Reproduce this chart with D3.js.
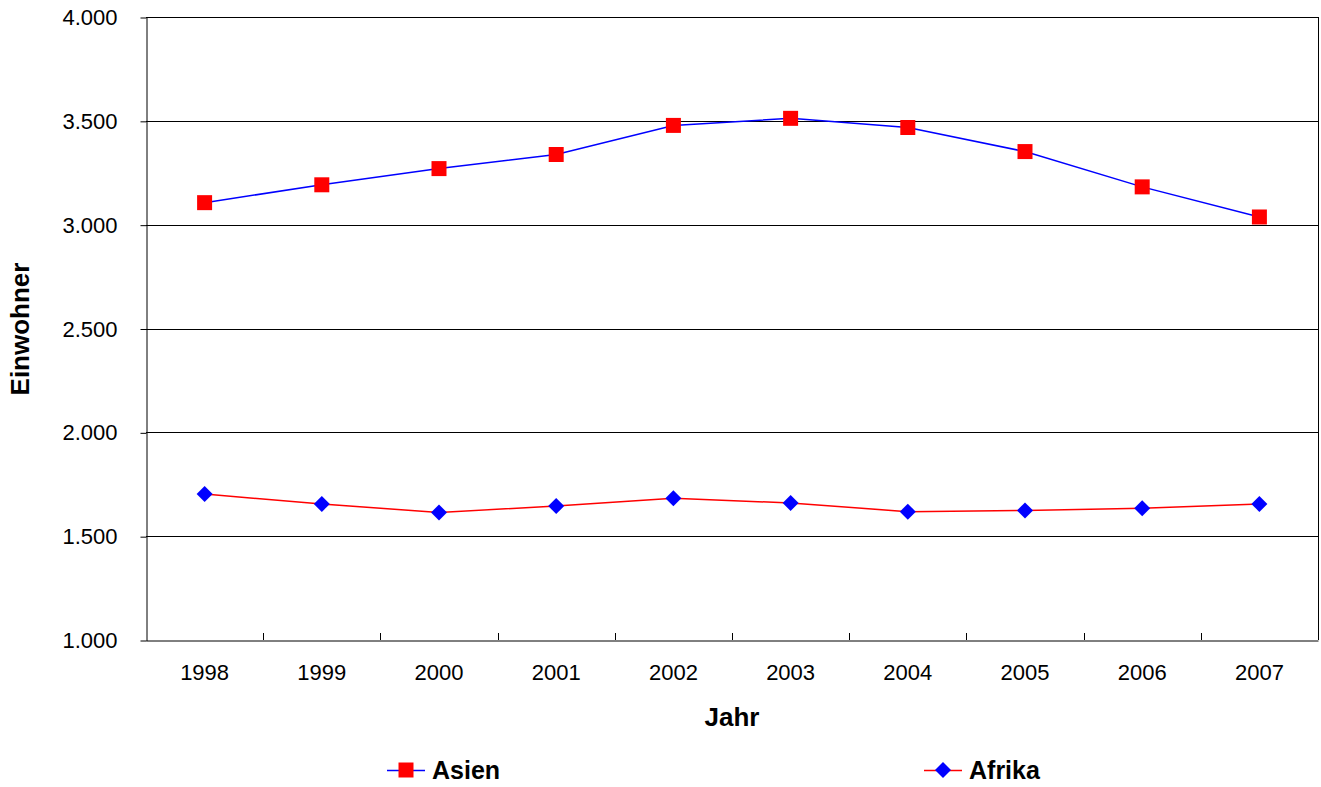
<!DOCTYPE html>
<html><head><meta charset="utf-8">
<script src="https://cdn.jsdelivr.net/npm/d3@7"></script>
<style>body{margin:0;background:#fff}svg{display:block}text{font-family:"Liberation Sans",Arial,sans-serif}</style>
</head><body>
<svg id="c" width="1321" height="787"></svg>
<script>
const years = ["1998","1999","2000","2001","2002","2003","2004","2005","2006","2007"];
const asien = [3106,3192,3270,3338,3478,3512,3468,3352,3182,3037];
const afrika = [1703,1655,1614,1645,1682,1660,1618,1624,1634,1655];
const yTicks = [1000,1500,2000,2500,3000,3500,4000];

const svg = d3.select("#c");
const L=146,R=1318,T=17,B=640;
const x = d3.scaleBand().domain(years).range([L,R]);
const y = d3.scaleLinear().domain([1000,4000]).range([B,T]);
const fmt = d => d3.format(",")(d).replace(/,/g,".");
const FF = "Liberation Sans, Arial, sans-serif";

// gridlines
svg.append("g").selectAll("line").data(yTicks.filter(d=>d>1000)).join("line")
  .attr("x1",L).attr("x2",R).attr("y1",d=>Math.round(y(d))+0.5).attr("y2",d=>Math.round(y(d))+0.5)
  .attr("stroke","#000").attr("stroke-width",1);
// right border
svg.append("line").attr("x1",R+0.5).attr("x2",R+0.5).attr("y1",T).attr("y2",B).attr("stroke","#000");

// y axis
const ya = svg.append("g").attr("transform",`translate(${L+0.5},0.5)`)
  .call(d3.axisLeft(y).tickValues(yTicks).tickFormat(fmt).tickSize(6).tickSizeOuter(0).tickPadding(23));
ya.selectAll("text").attr("font-size",22).attr("fill","#000").style("font-family",FF);
ya.select(".domain").attr("stroke","#000");
ya.selectAll(".tick line").attr("stroke","#000");

// x axis
const xa = svg.append("g").attr("transform",`translate(0,${B+0.5})`)
  .call(d3.axisBottom(x).tickSize(0).tickSizeOuter(0).tickPadding(24));
xa.selectAll("text").attr("font-size",22).attr("fill","#000").style("font-family",FF);
xa.select(".domain").attr("stroke","#000");
// inner ticks at band boundaries
svg.append("g").selectAll("line").data(years.slice(1)).join("line")
  .attr("x1",d=>Math.round(x(d))+0.5).attr("x2",d=>Math.round(x(d))+0.5)
  .attr("y1",B).attr("y2",B-7).attr("stroke","#000");

const cx = d => x(d)+x.bandwidth()/2;
const line = d3.line().x((d,i)=>cx(years[i])).y(d=>y(d));

svg.append("path").datum(asien).attr("d",line).attr("fill","none").attr("stroke","#0000ff").attr("stroke-width",1.5);
svg.append("path").datum(afrika).attr("d",line).attr("fill","none").attr("stroke","#ff0000").attr("stroke-width",1.5);

const sq = d3.symbol().type(d3.symbolSquare).size(225);
const dm = "M0,-8L8,0L0,8L-8,0Z";
svg.append("g").selectAll("path").data(asien).join("path")
  .attr("d",sq).attr("transform",(d,i)=>`translate(${cx(years[i])},${y(d)})`).attr("fill","#ff0000");
svg.append("g").selectAll("path").data(afrika).join("path")
  .attr("d",dm).attr("transform",(d,i)=>`translate(${cx(years[i])},${y(d)})`).attr("fill","#0000ff");

// axis titles
svg.append("text").attr("x",(L+R)/2).attr("y",726).attr("text-anchor","middle")
  .attr("font-size",26).attr("font-weight","bold").text("Jahr");
svg.append("text").attr("transform","translate(29,329) rotate(-90)").attr("text-anchor","middle")
  .attr("font-size",26).attr("font-weight","bold").text("Einwohner");

// legend
const leg = [{name:"Asien",x:387,lc:"#0000ff",mk:sq,mc:"#ff0000"},{name:"Afrika",x:924,lc:"#ff0000",mk:dm,mc:"#0000ff"}];
const ly=770;
leg.forEach(l=>{
  svg.append("line").attr("x1",l.x).attr("x2",l.x+38).attr("y1",ly+0.5).attr("y2",ly+0.5).attr("stroke",l.lc).attr("stroke-width",1.5);
  svg.append("path").attr("d",l.mk).attr("transform",`translate(${l.x+19},${ly})`).attr("fill",l.mc);
  svg.append("text").attr("x",l.x+45).attr("y",ly+9).attr("font-size",25).attr("font-weight","bold").text(l.name);
});
</script>
</body></html>
